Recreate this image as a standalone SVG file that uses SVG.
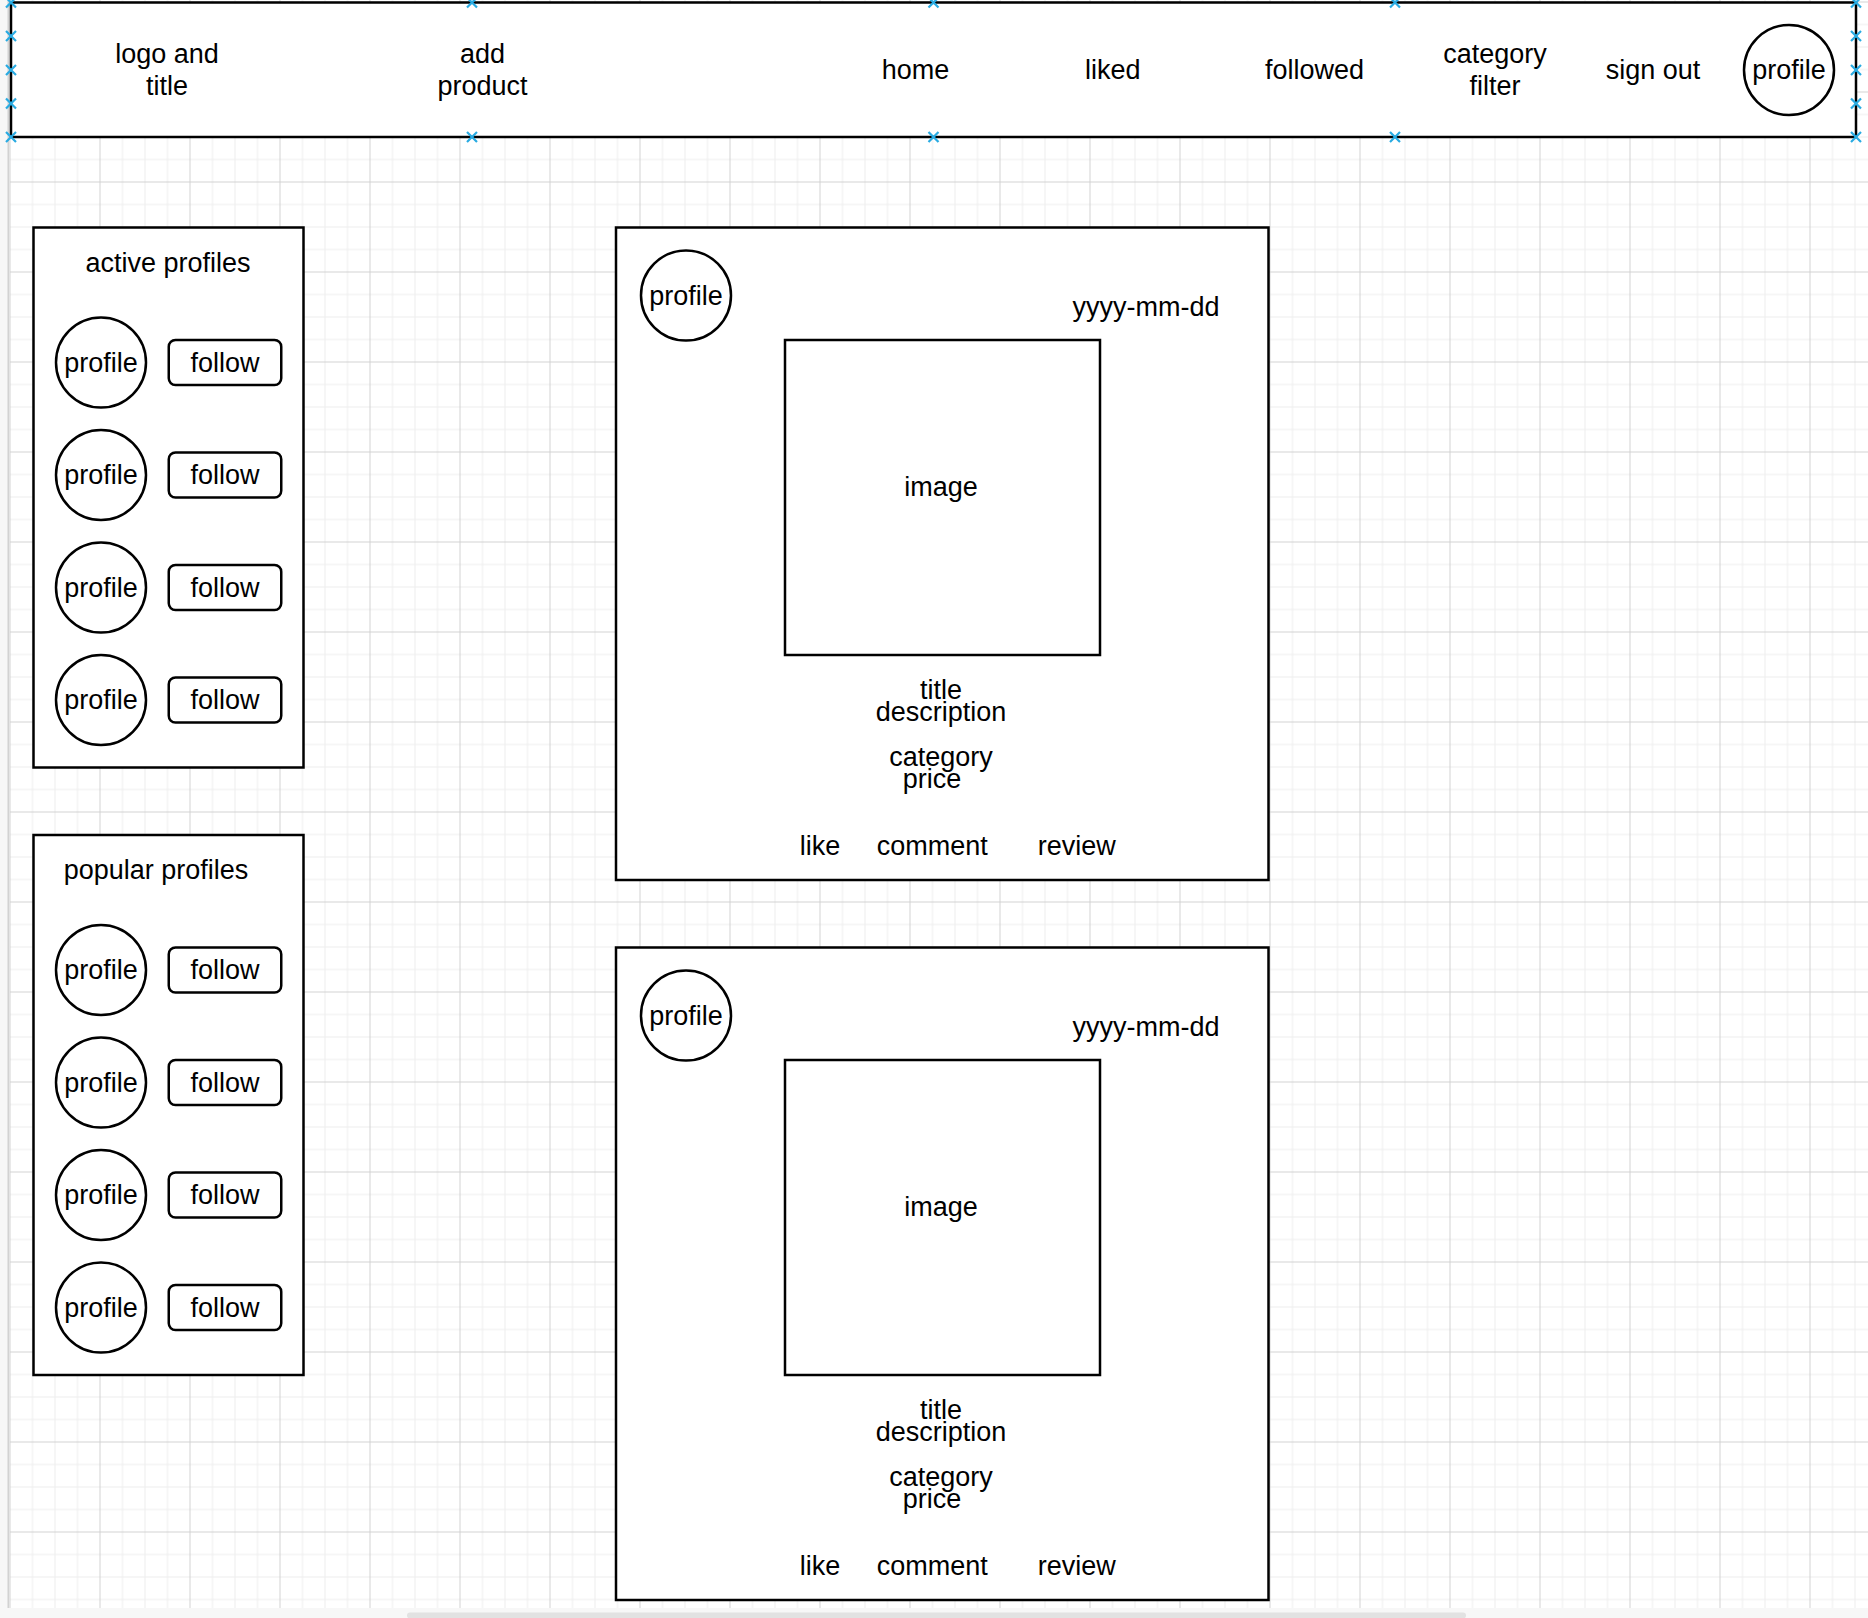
<svg xmlns="http://www.w3.org/2000/svg" xmlns:xlink="http://www.w3.org/1999/xlink" width="1868" height="1618" viewBox="0 0 1868 1618">
<style>
text{font-family:"Liberation Sans",Arial,Helvetica,sans-serif;font-size:27px;fill:#000;text-anchor:middle}
.box{fill:#fff;stroke:#000;stroke-width:2.5}
.btn{fill:#fff;stroke:#000;stroke-width:2.5}
.hdl{fill:none;stroke:#29abe2;stroke-width:2.2}
</style>
<defs>
<pattern id="grid" patternUnits="userSpaceOnUse" x="9.5" y="1.5" width="90" height="90">
<path d="M23 0V90M45.5 0V90M68 0V90M0 23H90M0 45.5H90M0 68H90" stroke="#ededed" stroke-width="1" fill="none"/>
<path d="M0.5 0V90M0 0.5H90" stroke="#d2d2d2" stroke-width="1" fill="none"/>
</pattern>
<path id="xm" class="hdl" d="M-5,-5L5,5M5,-5L-5,5"/>
<g id="profileRow">
<circle class="box" cx="101" cy="0" r="45"/>
<text x="101" y="9.4">profile</text>
<rect class="btn" x="168.75" y="-22.5" width="112.5" height="45" rx="6.75" ry="6.75"/>
<text x="225" y="9.4">follow</text>
</g>
<g id="postCard">
<rect class="box" x="616" y="227.5" width="652.5" height="652.5"/>
<circle class="box" cx="686" cy="295.5" r="45"/>
<text x="686" y="305">profile</text>
<text x="1146" y="316">yyyy-mm-dd</text>
<rect class="box" x="785" y="340" width="315" height="315"/>
<text x="941" y="496">image</text>
<text x="941" y="698.5">title</text>
<text x="941" y="721">description</text>
<text x="941" y="766">category</text>
<text x="932" y="787.5">price</text>
<text x="820" y="854.5">like</text>
<text x="932.3" y="854.5">comment</text>
<text x="1076.7" y="854.5">review</text>
</g>
</defs>

<g id="background">
<rect x="0" y="0" width="1868" height="1618" fill="#f7f7f7"/>
<rect x="10" y="0" width="1858" height="1608" fill="#fff"/>
<rect x="10" y="0" width="1858" height="1608" fill="url(#grid)"/>
<line x1="8.5" y1="0" x2="8.5" y2="1608" stroke="#d2d2d2" stroke-width="2"/>
<rect x="407" y="1612.5" width="1059" height="6" rx="3" fill="#e2e2e2"/>
</g>

<g id="connectors"/>

<g id="header">
<rect class="box" x="11" y="2.5" width="1845" height="134.5"/>
<g id="hdr-logo"><text x="167" y="62.7">logo and</text><text x="167" y="95.1">title</text></g>
<g id="hdr-add"><text x="482.5" y="62.7">add</text><text x="482.5" y="95.1">product</text></g>
<g id="hdr-home"><text x="915.5" y="79">home</text></g>
<g id="hdr-liked"><text x="1112.7" y="79">liked</text></g>
<g id="hdr-followed"><text x="1314.6" y="79">followed</text></g>
<g id="hdr-category"><text x="1495" y="62.7">category</text><text x="1495" y="95.1">filter</text></g>
<g id="hdr-signout"><text x="1653" y="79">sign out</text></g>
<g id="hdr-profile"><circle class="box" cx="1789" cy="70" r="45"/><text x="1789" y="79">profile</text></g>
<g id="hdr-handles">
<use xlink:href="#xm" x="11" y="2.5"/><use xlink:href="#xm" x="472" y="2.5"/><use xlink:href="#xm" x="933.5" y="2.5"/><use xlink:href="#xm" x="1395" y="2.5"/><use xlink:href="#xm" x="1856" y="2.5"/>
<use xlink:href="#xm" x="11" y="137"/><use xlink:href="#xm" x="472" y="137"/><use xlink:href="#xm" x="933.5" y="137"/><use xlink:href="#xm" x="1395" y="137"/><use xlink:href="#xm" x="1856" y="137"/>
<use xlink:href="#xm" x="11" y="36"/><use xlink:href="#xm" x="11" y="70"/><use xlink:href="#xm" x="11" y="103.5"/>
<use xlink:href="#xm" x="1856" y="36"/><use xlink:href="#xm" x="1856" y="70"/><use xlink:href="#xm" x="1856" y="103.5"/>
</g>
</g>

<g id="active-profiles">
<rect class="box" x="33.5" y="227.5" width="270" height="540"/>
<text x="168" y="271.5">active profiles</text>
<use xlink:href="#profileRow" y="362.5"/>
<use xlink:href="#profileRow" y="475"/>
<use xlink:href="#profileRow" y="587.5"/>
<use xlink:href="#profileRow" y="700"/>
</g>

<g id="popular-profiles">
<rect class="box" x="33.5" y="835" width="270" height="540"/>
<text x="156" y="879">popular profiles</text>
<use xlink:href="#profileRow" y="970"/>
<use xlink:href="#profileRow" y="1082.5"/>
<use xlink:href="#profileRow" y="1195"/>
<use xlink:href="#profileRow" y="1307.5"/>
</g>

<g id="post-1"><use xlink:href="#postCard"/></g>
<g id="post-2"><use xlink:href="#postCard" y="720"/></g>
</svg>
